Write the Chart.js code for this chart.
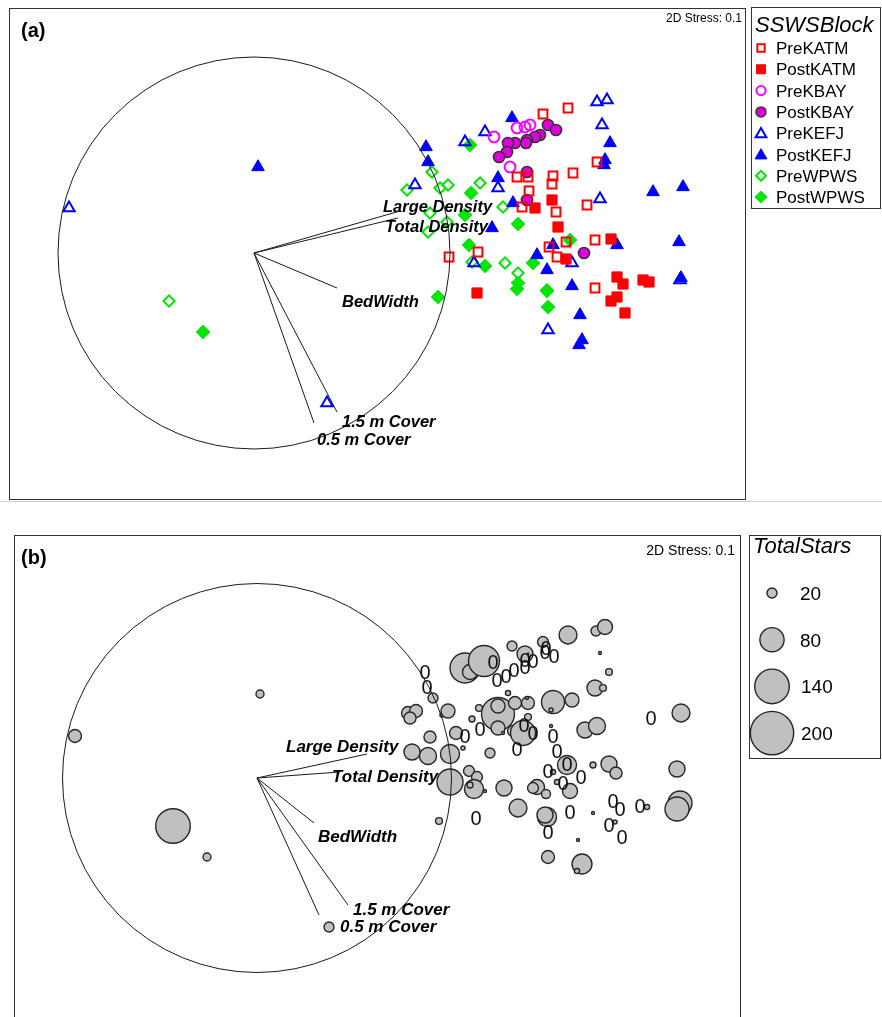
<!DOCTYPE html>
<html>
<head>
<meta charset="utf-8">
<script src="https://cdn.jsdelivr.net/npm/chart.js@4"></script>
<style>
html, body { margin: 0; padding: 0; background: #fff; width: 882px; height: 1017px; overflow: hidden; }
canvas { position: absolute; left: 0; }
#chartA { top: 0; }
#chartB { top: 505px; }
#sep { position: absolute; left: 0; top: 501px; width: 882px; height: 1px; background: #d0d0d0; }
</style>
</head>
<body>
<canvas id="chartA" width="882" height="505"></canvas>
<div id="sep"></div>
<canvas id="chartB" width="882" height="530"></canvas>
<script>
// NMDS scores, scaled so the correlation circle has radius ~195, origin at its centre

// ---- panel (a): sites by SSWS block ----
var preKATM = [[314,145],[289,139],[343,91],[263,76],[274,76],[299,77],[298,69],[319,80],[275,62],[268,46],[302,41],[333,48],[341,13],[295,6],[312,11],[303,-4],[195,-4],[224,1],[341,-35]];
var postKATM = [[298,53],[281,45],[304,26],[357,14],[312,-6],[363,-24],[369,-31],[389,-27],[395,-29],[363,-44],[357,-48],[371,-60],[223,-40]];
var preKBAY = [[240,116],[263,125],[271,126],[276,128],[256,86]];
var postKBAY = [[294,128],[302,123],[286,118],[281,116],[273,113],[272,110],[261,110],[254,110],[253,101],[245,96],[273,81],[273,53],[330,0]];
var preKEFJ = [[343,151],[353,153],[348,128],[231,121],[211,111],[244,65],[346,54],[161,68],[220,-10],[318,-10],[426,-27],[294,-77],[-185,45],[73,-150]];
var postKEFJ = [[258,135],[356,110],[351,93],[350,88],[172,106],[174,91],[244,75],[259,50],[238,25],[399,61],[429,66],[425,11],[363,8],[299,8],[283,-2],[293,-17],[318,-33],[326,-62],[328,-87],[325,-92],[427,-25],[4,86]];
var preWPWS = [[178,81],[153,63],[194,68],[186,65],[226,70],[249,46],[176,40],[193,31],[174,21],[218,-9],[251,-10],[264,-20],[293,-37],[-85,-48]];
var postWPWS = [[216,108],[217,60],[211,38],[264,29],[215,8],[231,-13],[279,-10],[316,13],[264,-30],[263,-36],[293,-38],[294,-54],[184,-44],[-51,-79]];

// ---- panel (b): same sites, bubble = TotalStars ----
var stars = [
  [-182,42,30],[3,84,14],[-84,-48,140],[-50,-79,14],[72,-149,20],[182,-43,11],
  [176,80,20],[151,65,30],[159,67,30],[153,60,27],[185,63,5],[191,67,34],
  [173,41,27],[155,26,42],[171,22,46],[199,45,30],[206,30,5],[193,24,55],
  [193,-4,90],[212,7,23],[220,1,23],[217,-11,55],[213,-7,9],[228,-13,3],
  [208,110,112],[213,106,38],[227,117,118],[255,132,20],[268,124,42],[271,124,1],
  [286,136,23],[311,143,50],[339,147,20],[348,151,38],[343,125,3],[352,106,11],
  [338,90,42],[346,90,11],[251,85,7],[222,70,11],[241,64,130],[241,72,34],
  [258,75,30],[271,75,30],[270,80,3],[271,61,11],[296,76,74],[315,78,34],
  [294,68,5],[294,52,3],[215,59,9],[241,50,34],[256,47,23],[266,45,84],
  [246,45,3],[233,25,20],[310,13,55],[296,6,7],[300,-4,7],[280,-9,38],
  [276,-10,23],[289,-16,17],[313,-13,38],[336,13,9],[352,14,42],[359,5,27],
  [328,48,42],[340,52,46],[424,65,50],[420,9,42],[423,-25,79],[420,-31,79],
  [390,-29,7],[336,-35,3],[358,-44,5],[261,-30,50],[290,-39,55],[288,-37,42],
  [321,-62,3],[291,-79,30],[325,-86,59],[320,-93,7],[247,-10,42]
];
var zeroStars = [
  [168,105],[170,90],[236,115],[240,97],[249,101],[257,107],[268,110],[268,117],
  [276,116],[288,125],[297,121],[289,129],[208,41],[223,48],[267,52],[276,44],
  [260,28],[296,41],[300,26],[291,6],[306,-6],[324,0],[219,-41],[394,59],
  [356,-24],[363,-32],[383,-29],[352,-48],[365,-60],[313,-35],[291,-55],[310,13]
];
var sizeLegend = [20, 80, 140, 200];

// ---- environmental vectors ----
var vecNames = ['Large Density', 'Total Density', 'BedWidth', '1.5 m Cover', '0.5 m Cover'];
var vecA = [[146,42],[144,35],[83,-35],[83,-159],[60,-170]];
var vecB = [[110,24],[83,6],[57,-45],[91,-127],[62,-137]];

var FONT = '"Liberation Sans", Arial, Helvetica, sans-serif';

// where each vector label is written (left end of baseline, data units)
var layoutA = { circle: 196, labels: [[129,41],[131,21],[88,-54],[88,-174],[63,-192]], labelSize: 16.5 };
var layoutB = { circle: 194.5, labels: [[29,26],[75,-4],[61,-64],[96,-137],[83,-154]], labelSize: 17 };

var groups = [
    { name: 'PreKATM',  pts: preKATM,  style: 'rect',     fill: 'rgba(0,0,0,0)', border: '#ff0000', r: 6.2, bw: 2, lr: 5.2 },
    { name: 'PostKATM', pts: postKATM, style: 'rect',     fill: '#ff0000', border: '#ff0000', r: 7.2, bw: 1, lr: 6.4 },
    { name: 'PreKBAY',  pts: preKBAY,  style: 'circle',   fill: 'rgba(0,0,0,0)', border: '#ff00ff', r: 5.4, bw: 2, lr: 4.6 },
    { name: 'PostKBAY', pts: postKBAY, style: 'circle',   fill: '#dd00dd', border: '#333333', r: 5.6, bw: 1.5, lr: 5 },
    { name: 'PreKEFJ',  pts: preKEFJ,  style: 'triangle', fill: 'rgba(0,0,0,0)', border: '#0000ff', r: 6.6, bw: 2, lr: 6.2 },
    { name: 'PostKEFJ', pts: postKEFJ, style: 'triangle', fill: '#0000ff', border: '#0000ff', r: 7.3, bw: 1, lr: 6.8 },
    { name: 'PreWPWS',  pts: preWPWS,  style: 'rectRot',  fill: 'rgba(0,0,0,0)', border: '#00e600', r: 5.6, bw: 2, lr: 5 },
    { name: 'PostWPWS', pts: postWPWS, style: 'rectRot',  fill: '#00e600', border: '#00e600', r: 6.8, bw: 1, lr: 6 }
];

function starRadius(n) { return 0.742 * Math.pow(n, 0.637); }

function toXY(p) { return { x: p[0], y: p[1] }; }

function marker(ctx, style, r, bw, fill, border, x, y) {
    ctx.fillStyle = fill;
    ctx.strokeStyle = border;
    ctx.lineWidth = bw;
    Chart.helpers.drawPoint(ctx, { pointStyle: style, radius: r, rotation: 0, borderWidth: bw }, x, y);
}

function overlay(id, layout, vectors, extra) {
    return {
        id: id,
        afterDatasetsDraw: function(chart) {
            var ctx = chart.ctx, xs = chart.scales.x, ys = chart.scales.y, a = chart.chartArea;
            var ox = xs.getPixelForValue(0), oy = ys.getPixelForValue(0);
            ctx.save();
            ctx.beginPath();
            ctx.rect(a.left, a.top, a.right - a.left, a.bottom - a.top);
            ctx.clip();
            if (extra && extra.before) extra.before(chart, ctx);
            ctx.strokeStyle = '#1a1a1a';
            ctx.lineWidth = 1;
            ctx.beginPath();
            ctx.arc(ox, oy, xs.getPixelForValue(layout.circle) - ox, 0, Math.PI * 2);
            ctx.stroke();
            ctx.beginPath();
            vectors.forEach(function(v) {
                ctx.moveTo(ox, oy);
                ctx.lineTo(xs.getPixelForValue(v[0]), ys.getPixelForValue(v[1]));
            });
            ctx.stroke();
            ctx.fillStyle = '#000';
            ctx.font = 'italic bold ' + layout.labelSize + 'px ' + FONT;
            ctx.textAlign = 'left';
            ctx.textBaseline = 'alphabetic';
            vecNames.forEach(function(n, i) {
                var p = layout.labels[i];
                ctx.fillText(n, xs.getPixelForValue(p[0]), ys.getPixelForValue(p[1]));
            });
            ctx.restore();
        },
        afterDraw: function(chart) {
            var ctx = chart.ctx, a = chart.chartArea;
            ctx.save();
            ctx.strokeStyle = '#333';
            ctx.lineWidth = 1;
            ctx.strokeRect(a.left + 0.5, a.top + 0.5, a.right - a.left, a.bottom - a.top);
            if (extra && extra.after) extra.after(chart, ctx);
            ctx.restore();
        }
    };
}

var baseOpts = function(pad, xr, yr) {
    return {
        responsive: false,
        animation: false,
        devicePixelRatio: 1,
        events: [],
        layout: { padding: pad, autoPadding: false },
        plugins: { legend: { display: false }, tooltip: { enabled: false } },
        scales: {
            x: { type: 'linear', display: false, min: xr[0], max: xr[1] },
            y: { type: 'linear', display: false, min: yr[0], max: yr[1] }
        }
    };
};

// ---------- chart (a) ----------
new Chart(document.getElementById('chartA'), {
    type: 'scatter',
    data: {
        datasets: groups.map(function(g) {
            return {
                label: g.name, data: g.pts.map(toXY), pointStyle: g.style, pointRadius: g.r,
                pointBorderWidth: g.bw, pointBackgroundColor: g.fill, pointBorderColor: g.border
            };
        })
    },
    options: baseOpts({ left: 9, top: 8, right: 137, bottom: 6 }, [-245, 491], [-246, 245]),
    plugins: [overlay('ordA', layoutA, vecA, {
        after: function(chart, ctx) {
            ctx.fillStyle = '#000';
            ctx.font = 'bold 20px ' + FONT;
            ctx.fillText('(a)', 21, 37);
            ctx.font = '12px ' + FONT;
            ctx.textAlign = 'right';
            ctx.fillText('2D Stress: 0.1', 742, 22);
            ctx.textAlign = 'left';
            // legend
            ctx.strokeStyle = '#333';
            ctx.strokeRect(751.5, 7.5, 129, 201);
            ctx.font = 'italic 22px ' + FONT;
            ctx.fillText('SSWSBlock', 755, 32);
            ctx.font = '17px ' + FONT;
            groups.forEach(function(g, i) {
                var y = 48 + i * 21.3;
                marker(ctx, g.style, g.lr, g.bw, g.fill, g.border, 761, g.style === 'triangle' ? y + 1 : y);
                ctx.fillStyle = '#000';
                ctx.fillText(g.name, 776, y + 6);
            });
        }
    })]
});

// ---------- chart (b) ----------
new Chart(document.getElementById('chartB'), {
    type: 'bubble',
    data: {
        datasets: [
            {
                label: 'TotalStars',
                data: stars.map(function(p) { return { x: p[0], y: p[1], r: starRadius(p[2]) }; }),
                backgroundColor: '#c0c0c0', borderColor: '#262626', borderWidth: 1.4
            },
            {
                type: 'scatter',
                label: 'zero',
                data: zeroStars.map(toXY),
                pointRadius: 0
            }
        ]
    },
    options: baseOpts({ left: 14, top: 30, right: 142, bottom: 0 }, [-243, 483], [-257, 243]),
    plugins: [overlay('ordB', layoutB, vecB, {
        before: function(chart, ctx) {
            ctx.fillStyle = '#111';
            ctx.font = '20px ' + FONT;
            ctx.textAlign = 'center';
            ctx.textBaseline = 'middle';
            chart.getDatasetMeta(1).data.forEach(function(el) {
                ctx.fillText('0', el.x, el.y);
            });
            ctx.textAlign = 'left';
            ctx.textBaseline = 'alphabetic';
        },
        after: function(chart, ctx) {
            ctx.fillStyle = '#000';
            ctx.font = 'bold 20px ' + FONT;
            ctx.fillText('(b)', 21, 59);
            ctx.font = '14px ' + FONT;
            ctx.textAlign = 'right';
            ctx.fillText('2D Stress: 0.1', 735, 50);
            ctx.textAlign = 'left';
            // legend
            ctx.strokeStyle = '#333';
            ctx.strokeRect(749.5, 30.5, 131, 223);
            ctx.font = 'italic 22px ' + FONT;
            ctx.fillText('TotalStars', 753, 48);
            ctx.font = '19px ' + FONT;
            sizeLegend.forEach(function(v, i) {
                var y = 88 + i * 46.7;
                marker(ctx, 'circle', starRadius(v), 1.4, '#c0c0c0', '#262626', 772, y);
                ctx.fillStyle = '#000';
                ctx.fillText(String(v), v >= 100 ? 801 : 800, y + 7);
            });
        }
    })]
});
</script>
</body>
</html>
